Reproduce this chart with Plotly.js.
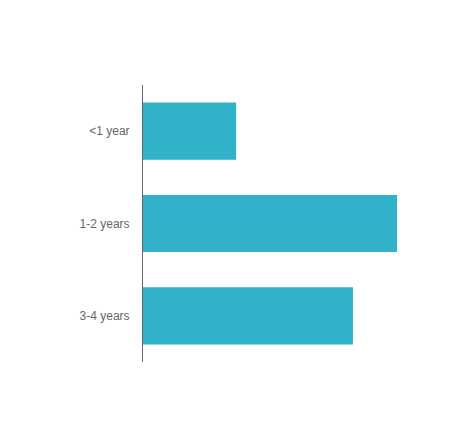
<!DOCTYPE html>
<html>
<head>
<meta charset="utf-8">
<script src="https://cdn.plot.ly/plotly-3.0.1.min.js"></script>
<style>
  html, body { margin: 0; padding: 0; background: #fff; }
  #chart { width: 468px; height: 445px; }
</style>
</head>
<body>
<div id="chart"></div>
<script>
const categories = ['<1 year', '1-2 years', '3-4 years'];
const counts = [11, 30, 24.8];

const trace = {
  type: 'bar',
  orientation: 'h',
  y: categories,
  x: counts,
  marker: {color: '#32b2c8'},
  hoverinfo: 'x+y'
};

const layout = {
  width: 468,
  height: 445,
  showlegend: false,
  paper_bgcolor: '#fff',
  plot_bgcolor: '#fff',
  font: {family: 'Liberation Sans, Arial, sans-serif', size: 12, color: '#666'},
  margin: {l: 143, r: 71, t: 85, b: 83},
  bargap: 0.38,
  xaxis: {
    range: [0, 30],
    visible: false,
    showgrid: false,
    zeroline: false
  },
  yaxis: {
    autorange: 'reversed',
    showline: true,
    linecolor: '#666',
    linewidth: 1,
    showgrid: false,
    zeroline: false,
    ticks: '',
    ticklabelstandoff: 10
  }
};

Plotly.newPlot('chart', [trace], layout, {displayModeBar: false});
</script>
</body>
</html>
